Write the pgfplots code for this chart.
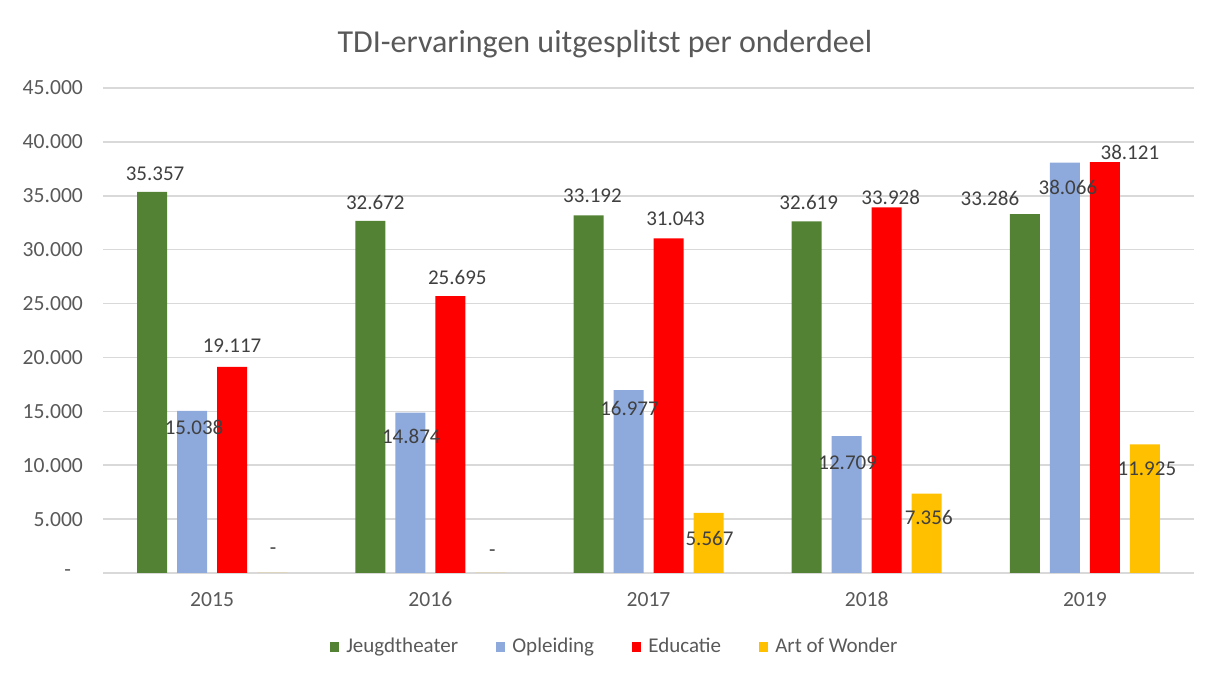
\documentclass[border=0pt]{standalone}
\usepackage{fontspec}
\setmainfont{Carlito}
\usepackage{pgfplots}
\usepackage{pgfplotstable}
\pgfplotsset{compat=1.18}
\definecolor{cG}{HTML}{548235}
\definecolor{cB}{HTML}{8EA9DB}
\definecolor{cR}{HTML}{FF0000}
\definecolor{cY}{HTML}{FFC000}
\definecolor{gridc}{HTML}{D9D9D9}
\definecolor{txt}{HTML}{595959}
\definecolor{lblc}{HTML}{404040}

\pgfplotstableread{
x y lbl dx dy
0 35357 35.357 1.5 9
1 32672 32.672 2.5 9
2 33192 33.192 2 9.5
3 32619 32.619 1 9.5
4 33286 33.286 -17.5 8
}\tG
\pgfplotstableread{
x y lbl dx dy
0 15038 15.038 1 -8
1 14874 14.874 0.5 -12
2 16977 16.977 0.5 -9
3 12709 12.709 0.5 -13.5
4 38066 38.066 1.5 -12.5
}\tB
\pgfplotstableread{
x y lbl dx dy
0 19117 19.117 0 10.5
1 25695 25.695 3.5 9.5
2 31043 31.043 3.5 10
3 33928 33.928 2 5
4 38121 38.121 12.5 5
}\tR
\pgfplotstableread{
x y lbl dx dy
0 0 {-} 0.5 11
1 0 {-} 1 10
2 5567 5.567 0.5 -12.5
3 7356 7.356 1 -12
4 11925 11.925 1 -12
}\tY

\begin{document}
\begin{tikzpicture}
\begin{axis}[
  name=ax,
  scale only axis,
  width=545.5pt, height=242.5pt,
  xmin=-0.5, xmax=4.5,
  ymin=0, ymax=45000,
  scaled y ticks=false,
  xtick={0,1,2,3,4},
  xticklabels={2015,2016,2017,2018,2019},
  ytick={0,5000,10000,15000,20000,25000,30000,35000,40000,45000},
  yticklabels={{-\rule{6pt}{0pt}},5.000,10.000,15.000,20.000,25.000,30.000,35.000,40.000,45.000},
  ymajorgrids, xmajorgrids=false,
  grid style={draw=gridc, line width=0.8pt},
  axis line style={draw=none},
  major tick length=0pt,
  tick label style={font=\fontsize{10.8}{13}\selectfont, text=txt},
  yticklabel style={xshift=-6.5pt},
  xticklabel style={yshift=-6pt},
  ybar,
  bar width=15pt,
  clip=false,
  title={TDI-ervaringen uitgesplitst per onderdeel},
  title style={at={(0.46,1.066)}, anchor=center, font=\fontsize{16}{19}\selectfont, text=txt},
  legend columns=-1,
  legend style={at={(0.47,-0.1526)}, anchor=center, draw=none, fill=none,
    font=\fontsize{10.5}{12}\selectfont, text=txt,
    /tikz/every odd column/.append style={column sep=1.5pt},
    /tikz/every even column/.append style={column sep=17pt}},
  legend image code/.code={\fill[#1] (0pt,-2.3pt) rectangle (4.6pt,2.3pt);},
  point meta=explicit symbolic,
  visualization depends on={\thisrow{dx}\as\dx},
  visualization depends on={\thisrow{dy}\as\dy},
  nodes near coords={\pgfplotspointmeta},
  nodes near coords style={anchor=center, xshift=\dx pt, yshift=\dy pt,
    font=\fontsize{10.5}{12}\selectfont, text=lblc},
]
\addplot[fill=cG, draw=none, bar shift=-30pt] table[x=x, y=y, meta=lbl] {\tG};
\addlegendentry{Jeugdtheater}
\addplot[fill=cB, draw=none, bar shift=-10pt] table[x=x, y=y, meta=lbl] {\tB};
\addlegendentry{Opleiding}
\addplot[fill=cR, draw=none, bar shift=10pt] table[x=x, y=y, meta=lbl] {\tR};
\addlegendentry{Educatie}
\addplot[fill=cY, draw=none, bar shift=30pt] table[x=x, y=y, meta=lbl] {\tY};
\addlegendentry{Art of Wonder}
\end{axis}
\path ([xshift=-51.5pt,yshift=-51pt]ax.south west) rectangle ([xshift=10.5pt,yshift=44pt]ax.north east);
\end{tikzpicture}
\end{document}
